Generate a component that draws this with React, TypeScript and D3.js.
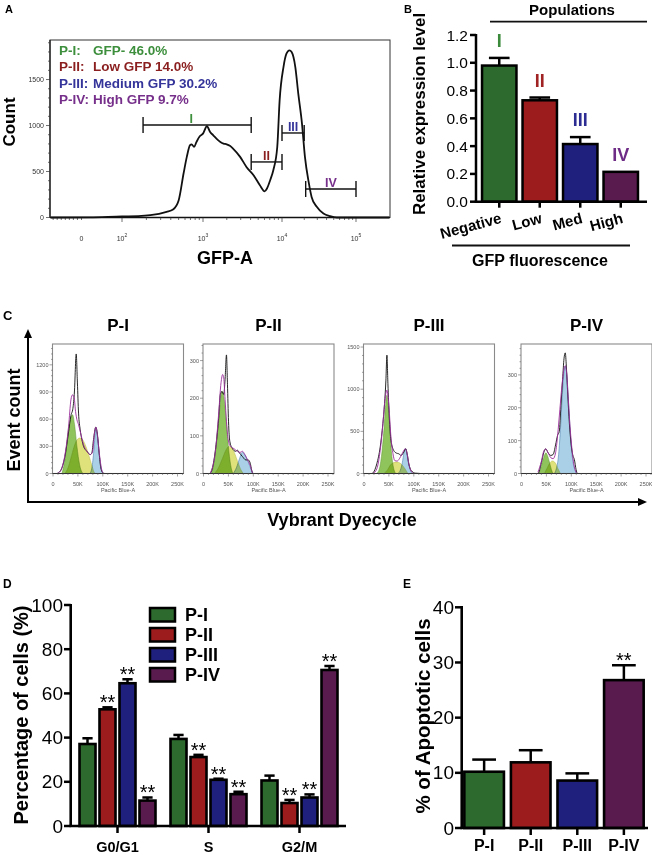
import React from 'react';
import * as d3 from 'd3';

const FONT = "'Liberation Sans', Arial, Helvetica, sans-serif";

type P = [number, number];

// ---------------- Panel A data ----------------
// [log10(GFP-A), count]
const gfpHistogram: P[] = [
  [1.12, 0], [1.6, 2], [2.0, 12], [2.2, 15], [2.35, 25], [2.55, 62], [2.63, 87], [2.7, 188],
  [2.76, 478], [2.8, 659], [2.84, 786], [2.86, 796], [2.89, 767], [2.92, 822], [2.96, 883],
  [3.0, 912], [3.05, 992], [3.09, 930], [3.13, 894], [3.17, 858], [3.22, 822], [3.26, 804],
  [3.3, 796], [3.34, 780], [3.38, 749], [3.47, 659], [3.55, 550], [3.64, 460], [3.72, 351],
  [3.78, 285], [3.81, 315], [3.85, 405], [3.89, 514], [3.94, 767], [3.97, 1274], [4.02, 1636],
  [4.06, 1781], [4.1, 1817], [4.13, 1799], [4.18, 1636], [4.22, 1347], [4.27, 1021], [4.31, 659],
  [4.36, 387], [4.4, 224], [4.47, 116], [4.56, 43], [4.65, 14], [4.74, 0], [5.45, 0],
];
const gfpLegendNames = ['P-I:', 'P-II:', 'P-III:', 'P-IV:'];
const gfpLegendTexts = ['GFP- 46.0%', 'Low GFP 14.0%', 'Medium GFP 30.2%', 'High GFP 9.7%'];
const gateNames = ['I', 'II', 'III', 'IV'];
const gateFrom = [2.26, 3.61, 4.0, 4.32];
const gateTo = [3.61, 4.0, 4.3, 5.0];
const gateLevel = [1005, 604, 919, 310];
const countTicksA = [0, 500, 1000, 1500];
const gfpDecades = [2, 3, 4, 5];

// ---------------- Panel B data ----------------
const populationCats = ['Negative', 'Low', 'Med', 'High'];
const populationRoman = ['I', 'II', 'III', 'IV'];
const expressionMean = [0.98, 0.73, 0.415, 0.215];
const expressionErr = [0.055, 0.02, 0.05, 0.0];
const expressionTicks = [0, 0.2, 0.4, 0.6, 0.8, 1.0, 1.2];

// ---------------- Panel C data ----------------
// [Pacific Blue-A (K), count]
const rawPI: P[] = [[0, 0], [8, 0], [11, 8], [18, 62], [24, 190], [31, 447], [36, 640], [40, 720], [43, 900], [46.6, 1320], [49, 1000], [51.3, 667], [54.6, 484], [58, 374], [61.3, 301], [68, 246], [74.6, 209], [78, 227], [81.3, 374], [86, 513], [89.3, 429], [92.6, 227], [96, 62], [100, 8], [104, 0], [262, 0]];
const fitPI: P[] = [[8, 0], [14.6, 26], [24.6, 227], [31.3, 521], [36, 814], [39.3, 869], [42.6, 832], [45.3, 685], [48, 594], [51.3, 539], [54.6, 466], [61.3, 319], [68, 246], [74.6, 209], [79.3, 235], [83.3, 447], [86, 513], [89.3, 411], [93.3, 209], [98, 37], [101.3, 0]];
const g1PI: P[] = [[18, 0], [24.6, 172], [31.3, 502], [39.3, 649], [43.3, 539], [48, 301], [53.3, 99], [58, 15], [61, 0]];
const sPI: P[] = [[24, 0], [30, 60], [36, 170], [42, 290], [48, 370], [54, 392], [60, 370], [66, 300], [72, 200], [78, 90], [82, 20], [85, 0]];
const g2PI: P[] = [[74, 0], [78, 60], [82, 250], [86, 500], [90, 380], [94, 150], [98, 30], [101, 0]];

const rawPII: P[] = [[0, 0], [13, 0], [23.6, 59], [30.4, 147], [33.8, 210], [37.2, 218], [40.6, 210], [43.3, 250], [46.1, 315], [48.1, 237], [50.2, 139], [52.9, 85], [57.7, 67], [64.6, 59], [68, 62], [71.4, 56], [78.2, 45], [85, 36], [89.8, 36], [93.9, 27], [96.7, 9], [99.4, 0], [262, 0]];
const fitPII: P[] = [[13, 0], [23.6, 56], [30.4, 158], [35.2, 241], [38.5, 263], [40.6, 254], [43.3, 197], [46.1, 139], [49.5, 90], [54.3, 72], [61.1, 66], [68, 59], [73.5, 56], [78.2, 59], [83, 50], [88.4, 36], [93.9, 21], [98.7, 1], [100, 0]];
const g1PII: P[] = [[16.7, 0], [23.6, 51], [30.4, 138], [37.2, 218], [42, 192], [46.1, 130], [50.9, 59], [55.7, 14], [59.8, 0]];
const sPII: P[] = [[22, 0], [30, 15], [38, 40], [45, 62], [51, 72], [57, 68], [63, 52], [69, 30], [75, 10], [80, 0]];
const g2PII: P[] = [[60, 0], [66, 15], [72, 38], [78, 56], [84, 48], [90, 30], [95, 12], [100, 0]];

const rawPIII: P[] = [[0, 0], [15.6, 0], [25.7, 115], [32.5, 313], [37.9, 590], [41.3, 829], [44, 1107], [46, 1404], [48, 1066], [50.8, 670], [54.1, 393], [59.6, 274], [65, 242], [69.7, 234], [74.5, 214], [79.9, 254], [83.9, 294], [86.6, 234], [90, 115], [94.7, 36], [103.5, 4], [113.6, 0], [262, 0]];
const fitPIII: P[] = [[18, 0], [25.7, 55], [32.5, 274], [37.9, 590], [42, 869], [46, 988], [50.1, 789], [54.1, 432], [58.2, 234], [61.6, 155], [66.3, 147], [71, 174], [76.4, 234], [83.2, 294], [86.6, 234], [90, 115], [94.7, 28], [100, 0]];
const g1PIII: P[] = [[25, 0], [30, 40], [35, 200], [40, 520], [43, 780], [46, 928], [49, 780], [52, 500], [56, 200], [60, 50], [64, 0]];
const sPIII: P[] = [[40, 0], [47, 40], [53, 100], [60, 130], [66, 135], [72, 125], [78, 90], [84, 40], [88, 0]];
const g2PIII: P[] = [[68, 0], [73, 40], [77, 130], [80, 240], [83, 294], [86, 240], [89, 130], [93, 40], [97, 0]];

const rawPIV: P[] = [[0, 0], [33.1, 0], [39.9, 33], [44.6, 63], [48.7, 75], [53.4, 63], [58.9, 55], [63.6, 58], [68.4, 87], [72.4, 116], [75.8, 128], [79.2, 206], [82.6, 287], [85.3, 349], [87.9, 367], [90, 327], [92.7, 245], [96.1, 153], [99.4, 92], [102.8, 57], [106.2, 42], [109.6, 12], [112.3, 0], [262, 0]];
const fitPIV: P[] = [[33.1, 4], [39.9, 37], [44.6, 68], [48.7, 75], [53.4, 63], [58.9, 48], [63.6, 45], [68.4, 63], [72.4, 114], [77.1, 196], [81.2, 267], [85.3, 318], [87.9, 328], [90.6, 306], [94, 224], [97.4, 143], [100.8, 82], [104.2, 37], [107.6, 12], [111, 0]];
const g1PIV: P[] = [[34, 0], [38, 12], [42, 35], [46, 55], [49, 63], [52, 55], [56, 35], [60, 12], [63, 0]];
const sPIV: P[] = [[46, 0], [51, 15], [56, 30], [62, 38], [68, 32], [73, 15], [78, 0]];
const g2PIV: P[] = [[66, 0], [70, 15], [74, 50], [78, 130], [82, 240], [86, 315], [88, 326], [91, 300], [94, 230], [97, 150], [100, 80], [104, 30], [108, 8], [111, 0]];

const cycleNames = ['P-I', 'P-II', 'P-III', 'P-IV'];
const cycleRaw = [rawPI, rawPII, rawPIII, rawPIV];
const cycleFit = [fitPI, fitPII, fitPIII, fitPIV];
const cycleG1 = [g1PI, g1PII, g1PIII, g1PIV];
const cycleS = [sPI, sPII, sPIII, sPIV];
const cycleG2 = [g2PI, g2PII, g2PIII, g2PIV];
const cycleYMax = [1430, 344, 1536, 394];
const cycleYTicks = [[0, 300, 600, 900, 1200], [0, 100, 200, 300], [0, 500, 1000, 1500], [0, 100, 200, 300]];
const cycleYMinor = [60, 20, 100, 20];
const cycleXTicks = [0, 50, 100, 150, 200, 250];

// ---------------- Panel D data ----------------
const phaseGroups = ['G0/G1', 'S', 'G2/M'];
const popNames = ['P-I', 'P-II', 'P-III', 'P-IV'];
const phaseMean = [[37.1, 52.8, 64.6, 11.5], [39.4, 31.2, 20.9, 14.4], [20.6, 10.4, 12.9, 70.6]];
const phaseErr = [[2.6, 0.9, 1.8, 1.4], [1.8, 1.0, 0.5, 1.1], [2.2, 1.4, 1.4, 1.8]];
const phaseSig = [[false, true, true, true], [false, true, true, true], [false, true, true, true]];
const percentTicks = [0, 20, 40, 60, 80, 100];

// ---------------- Panel E data ----------------
const apoptoticMean = [10.2, 11.9, 8.6, 26.8];
const apoptoticErr = [2.2, 2.2, 1.3, 2.7];
const apoptoticSig = [false, false, false, true];
const apoptoticTicks = [0, 10, 20, 30, 40];

// ---------------- styles ----------------
const BAR_COLORS = ['#2d6a2e', '#9c1c1e', '#1f1f7e', '#591b4e'];
const LABEL_COLORS = ['#3b8a3b', '#a02222', '#2c2c92', '#6e2c86'];
const LEGEND_A_COLORS = ['#3d8f3d', '#8b1f1f', '#34349a', '#762f8a'];

function PanelA() {
  const x = d3.scaleLinear().domain([2, 3, 4, 5]).range([122, 203, 282, 356]);
  const y = d3.scaleLinear().domain([0, 1930]).range([217.5, 40]);
  const line = d3.line<P>().x(d => x(d[0])).y(d => y(d[1])).curve(d3.curveMonotoneX);
  const yMinor = d3.range(0, 1901, 100);
  const xMinor: number[] = [];
  [2, 3, 4].forEach(k => d3.range(1, 10).forEach(m => xMinor.push(k + Math.log10(m))));
  xMinor.push(5);
  const linTicks = d3.range(1.15, 1.5, 0.05);
  return (
    <g>
      <text x={5} y={13} fontSize={11} fontWeight="bold">A</text>
      <rect x={50} y={40} width={340} height={177.5} fill="none" stroke="#333" strokeWidth={1} />
      <line x1={50} x2={390} y1={217.5} y2={217.5} stroke="#111" strokeWidth={1.6} />
      <line x1={50} x2={50} y1={40} y2={217.5} stroke="#222" strokeWidth={1.3} />
      {yMinor.map(v => (
        <line key={v} x1={v % 500 === 0 ? 46 : 48} x2={50} y1={y(v)} y2={y(v)} stroke="#333" strokeWidth={0.7} />
      ))}
      {countTicksA.map(v => (
        <text key={v} x={44} y={y(v) + 2.5} fontSize={7} textAnchor="end" fill="#333">{v}</text>
      ))}
      {xMinor.map((v, i) => (
        <line key={i} x1={x(v)} x2={x(v)} y1={217.5} y2={Number.isInteger(v) ? 222 : 220} stroke="#333" strokeWidth={0.7} />
      ))}
      {linTicks.map((v, i) => (
        <line key={'l' + i} x1={x(v)} x2={x(v)} y1={217.5} y2={220} stroke="#333" strokeWidth={0.7} />
      ))}
      <text x={x(1.5)} y={241} fontSize={7} textAnchor="middle" fill="#333">0</text>
      {gfpDecades.map(d => (
        <text key={d} x={x(d)} y={241} fontSize={7} textAnchor="middle" fill="#333">
          <tspan>10</tspan>
          <tspan dy={-4} fontSize={5}>{d}</tspan>
        </text>
      ))}
      <path d={line(gfpHistogram) || ''} fill="none" stroke="#111" strokeWidth={1.8} />
      {gateNames.map((g, i) => (
        <g key={g}>
          <line x1={x(gateFrom[i])} x2={x(gateTo[i])} y1={y(gateLevel[i])} y2={y(gateLevel[i])} stroke="#111" strokeWidth={1.4} />
          <line x1={x(gateFrom[i])} x2={x(gateFrom[i])} y1={y(gateLevel[i]) - 8} y2={y(gateLevel[i]) + 8} stroke="#111" strokeWidth={1.4} />
          <line x1={x(gateTo[i])} x2={x(gateTo[i])} y1={y(gateLevel[i]) - 8} y2={y(gateLevel[i]) + 8} stroke="#111" strokeWidth={1.4} />
          <text x={(x(gateFrom[i]) + x(gateTo[i])) / 2 - (i === 0 ? 6 : 0)} y={y(gateLevel[i]) - 2} fontSize={12.5} fontWeight="bold" textAnchor="middle" fill={LEGEND_A_COLORS[i]}>{g}</text>
        </g>
      ))}
      {gfpLegendNames.map((n, i) => (
        <text key={n} y={54.5 + i * 16.5} fontSize={13.5} fontWeight="bold" fill={LEGEND_A_COLORS[i]}>
          <tspan x={59}>{n}</tspan>
          <tspan x={93}>{gfpLegendTexts[i]}</tspan>
        </text>
      ))}
      <text transform="translate(15,122) rotate(-90)" fontSize={17} fontWeight="bold" textAnchor="middle">Count</text>
      <text x={225} y={264} fontSize={18} fontWeight="bold" textAnchor="middle">GFP-A</text>
    </g>
  );
}

function PanelB() {
  const y = d3.scaleLinear().domain([0, 1.2]).range([201.7, 35]);
  const x = d3.scaleBand<string>().domain(populationCats).range([479, 641]).paddingInner(0.15).paddingOuter(0.075);
  const bw = x.bandwidth();
  const fmt = d3.format('.1f');
  return (
    <g>
      <text x={404} y={13} fontSize={11} fontWeight="bold">B</text>
      <text x={572} y={15} fontSize={15} fontWeight="bold" textAnchor="middle">Populations</text>
      <line x1={490} x2={647} y1={21.7} y2={21.7} stroke="#111" strokeWidth={1.8} />
      {populationCats.map((c, i) => {
        const x0 = x(c)!;
        const cx = x0 + bw / 2;
        const top = y(expressionMean[i] + expressionErr[i]);
        return (
          <g key={c}>
            {expressionErr[i] > 0 && (
              <g stroke="#000" strokeWidth={2.5}>
                <line x1={cx} x2={cx} y1={y(expressionMean[i])} y2={top} />
                <line x1={cx - bw * 0.3} x2={cx + bw * 0.3} y1={top} y2={top} />
              </g>
            )}
            <rect x={x0} y={y(expressionMean[i])} width={bw} height={y(0) - y(expressionMean[i])} fill={BAR_COLORS[i]} stroke="#000" strokeWidth={2.5} />
            <text x={cx} y={top - 11} fontSize={18} fontWeight="bold" textAnchor="middle" fill={LABEL_COLORS[i]}>{populationRoman[i]}</text>
            <line x1={cx} x2={cx} y1={y(0)} y2={y(0) + 6} stroke="#000" strokeWidth={2.5} />
            <text transform={`translate(${cx + 3},${y(0) + 21}) rotate(-15)`} fontSize={15} fontWeight="bold" textAnchor="end">{c}</text>
          </g>
        );
      })}
      <line x1={476} x2={476} y1={34} y2={y(0) + 1.2} stroke="#000" strokeWidth={2.5} />
      <line x1={474.8} x2={647} y1={y(0)} y2={y(0)} stroke="#000" strokeWidth={2.5} />
      {expressionTicks.map(v => (
        <g key={v}>
          <line x1={470} x2={476} y1={y(v)} y2={y(v)} stroke="#000" strokeWidth={2.5} />
          <text x={468} y={y(v) + 5.5} fontSize={15.5} textAnchor="end">{fmt(v)}</text>
        </g>
      ))}
      <text transform="translate(425,114) rotate(-90)" fontSize={17} fontWeight="bold" textAnchor="middle">Relative expression level</text>
      <line x1={452} x2={630} y1={245.5} y2={245.5} stroke="#111" strokeWidth={1.8} />
      <text x={540} y={266} fontSize={16} fontWeight="bold" textAnchor="middle">GFP fluorescence</text>
    </g>
  );
}

function CyclePanel({ i, left }: { i: number; left: number }) {
  const top = 344;
  const bottom = 473.5;
  const width = 131;
  const x = d3.scaleLinear().domain([0, 262]).range([left + 0.5, left + width]);
  const y = d3.scaleLinear().domain([0, cycleYMax[i]]).range([bottom, top]);
  const area = d3.area<P>().x(d => x(d[0])).y0(bottom).y1(d => y(d[1])).curve(d3.curveMonotoneX);
  const line = d3.line<P>().x(d => x(d[0])).y(d => y(d[1])).curve(d3.curveMonotoneX);
  const clipId = `clipC${i}`;
  const yMinor = d3.range(0, cycleYMax[i], cycleYMinor[i]);
  const xMinor = d3.range(0, 261, 10);
  return (
    <g>
      <clipPath id={clipId}>
        <rect x={left} y={top} width={width} height={bottom - top} />
      </clipPath>
      <text x={left + width / 2} y={331} fontSize={17} fontWeight="bold" textAnchor="middle">{cycleNames[i]}</text>
      <g clipPath={`url(#${clipId})`}>
        <path d={area(cycleS[i]) || ''} fill="#dfe27a" stroke="#b9bb4a" strokeWidth={0.5} style={{ mixBlendMode: 'multiply' }} />
        <path d={area(cycleG1[i]) || ''} fill="#8fc45c" stroke="#5d8f30" strokeWidth={0.5} style={{ mixBlendMode: 'multiply' }} />
        <path d={area(cycleG2[i]) || ''} fill="#a9d0e6" stroke="#4f7fb0" strokeWidth={0.6} style={{ mixBlendMode: 'multiply' }} />
        <path d={line(cycleRaw[i]) || ''} fill="none" stroke="#111" strokeWidth={0.9} />
        <path d={line(cycleFit[i]) || ''} fill="none" stroke="#9b2f9b" strokeWidth={0.9} />
      </g>
      <rect x={left} y={top} width={width} height={bottom - top} fill="none" stroke="#8a8a8a" strokeWidth={1.1} />
      <line x1={left} x2={left + width} y1={bottom} y2={bottom} stroke="#333" strokeWidth={1} />
      {yMinor.map(v => (
        <line key={v} x1={left - (cycleYTicks[i].includes(v) ? 3 : 1.5)} x2={left} y1={y(v)} y2={y(v)} stroke="#666" strokeWidth={0.6} />
      ))}
      {cycleYTicks[i].map(v => (
        <text key={v} x={left - 4} y={y(v) + 2} fontSize={5.5} textAnchor="end" fill="#555">{v}</text>
      ))}
      {xMinor.map(v => (
        <line key={v} x1={x(v)} x2={x(v)} y1={bottom} y2={bottom + (v % 50 === 0 ? 3 : 1.5)} stroke="#666" strokeWidth={0.6} />
      ))}
      {cycleXTicks.map(v => (
        <text key={v} x={x(v)} y={bottom + 12} fontSize={5.5} textAnchor="middle" fill="#555">{v === 0 ? '0' : `${v}K`}</text>
      ))}
      <text x={left + width / 2} y={bottom + 18} fontSize={5.5} textAnchor="middle" fill="#555">Pacific Blue-A</text>
    </g>
  );
}

function PanelC() {
  const lefts = [52.5, 203, 363.5, 521];
  return (
    <g>
      <text x={3} y={320} fontSize={13} fontWeight="bold">C</text>
      {lefts.map((l, i) => <CyclePanel key={i} i={i} left={l} />)}
      <line x1={28} x2={28} y1={336} y2={502} stroke="#000" strokeWidth={2} />
      <path d="M28,329 L24,338 L32,338 Z" fill="#000" />
      <line x1={27} x2={640} y1={502} y2={502} stroke="#000" strokeWidth={2} />
      <path d="M647,502 L638,498 L638,506 Z" fill="#000" />
      <text transform="translate(20,420) rotate(-90)" fontSize={18} fontWeight="bold" textAnchor="middle">Event count</text>
      <text x={342} y={526} fontSize={18} fontWeight="bold" textAnchor="middle">Vybrant Dyecycle</text>
    </g>
  );
}

function PanelD() {
  const y = d3.scaleLinear().domain([0, 100]).range([826, 605]);
  const x0 = d3.scaleBand<string>().domain(phaseGroups).range([72, 345]).paddingInner(0.165).paddingOuter(0.0825);
  const x1 = d3.scaleBand<string>().domain(popNames).range([0, x0.bandwidth()]).paddingInner(0.2).paddingOuter(0);
  const bw = x1.bandwidth();
  return (
    <g>
      <text x={3} y={588} fontSize={12} fontWeight="bold">D</text>
      {phaseGroups.map((g, gi) => (
        <g key={g}>
          {popNames.map((p, pi) => {
            const bx = x0(g)! + x1(p)!;
            const cx = bx + bw / 2;
            const v = phaseMean[gi][pi];
            const top = y(v + phaseErr[gi][pi]);
            return (
              <g key={p}>
                <g stroke="#000" strokeWidth={2.5}>
                  <line x1={cx} x2={cx} y1={y(v)} y2={top} />
                  <line x1={cx - bw * 0.32} x2={cx + bw * 0.32} y1={top} y2={top} />
                </g>
                <rect x={bx} y={y(v)} width={bw} height={y(0) - y(v)} fill={BAR_COLORS[pi]} stroke="#000" strokeWidth={2.6} />
                {phaseSig[gi][pi] && (
                  <text x={cx} y={top + 2} fontSize={20} textAnchor="middle">**</text>
                )}
              </g>
            );
          })}
          <line x1={x0(g)! + x0.bandwidth() / 2} x2={x0(g)! + x0.bandwidth() / 2} y1={826} y2={833} stroke="#000" strokeWidth={2.5} />
          <text x={x0(g)! + x0.bandwidth() / 2} y={852} fontSize={14.5} fontWeight="bold" textAnchor="middle">{g}</text>
        </g>
      ))}
      <line x1={70.7} x2={70.7} y1={604} y2={827} stroke="#000" strokeWidth={2.6} />
      <line x1={69.5} x2={346} y1={826} y2={826} stroke="#000" strokeWidth={2.6} />
      {percentTicks.map(v => (
        <g key={v}>
          <line x1={64} x2={70.7} y1={y(v)} y2={y(v)} stroke="#000" strokeWidth={2.5} />
          <text x={63} y={y(v) + 6.5} fontSize={19} textAnchor="end">{v}</text>
        </g>
      ))}
      <text transform="translate(28,715) rotate(-90)" fontSize={20} fontWeight="bold" textAnchor="middle">Percentage of cells (%)</text>
      {popNames.map((p, i) => (
        <g key={p}>
          <rect x={150} y={608 + i * 20} width={25} height={13.5} fill={BAR_COLORS[i]} stroke="#000" strokeWidth={2.5} />
          <text x={185} y={621 + i * 20} fontSize={18} fontWeight="bold">{p}</text>
        </g>
      ))}
    </g>
  );
}

function PanelE() {
  const y = d3.scaleLinear().domain([0, 40]).range([828, 607.3]);
  const x = d3.scaleBand<string>().domain(popNames).range([462, 646]).paddingInner(0.15).paddingOuter(0.05);
  const bw = x.bandwidth();
  return (
    <g>
      <text x={403} y={588} fontSize={12} fontWeight="bold">E</text>
      {popNames.map((p, i) => {
        const bx = x(p)!;
        const cx = bx + bw / 2;
        const v = apoptoticMean[i];
        const top = y(v + apoptoticErr[i]);
        return (
          <g key={p}>
            <g stroke="#000" strokeWidth={2.5}>
              <line x1={cx} x2={cx} y1={y(v)} y2={top} />
              <line x1={cx - bw * 0.3} x2={cx + bw * 0.3} y1={top} y2={top} />
            </g>
            <rect x={bx} y={y(v)} width={bw} height={y(0) - y(v)} fill={BAR_COLORS[i]} stroke="#000" strokeWidth={2.6} />
            {apoptoticSig[i] && <text x={cx} y={top + 2} fontSize={20} textAnchor="middle">**</text>}
            <line x1={cx} x2={cx} y1={828} y2={835} stroke="#000" strokeWidth={2.5} />
            <text x={cx} y={851} fontSize={16} fontWeight="bold" textAnchor="middle">{p}</text>
          </g>
        );
      })}
      <line x1={461.7} x2={461.7} y1={606} y2={829} stroke="#000" strokeWidth={2.6} />
      <line x1={460.5} x2={648} y1={828} y2={828} stroke="#000" strokeWidth={2.6} />
      {apoptoticTicks.map(v => (
        <g key={v}>
          <line x1={455} x2={461.7} y1={y(v)} y2={y(v)} stroke="#000" strokeWidth={2.5} />
          <text x={454} y={y(v) + 6.5} fontSize={19} textAnchor="end">{v}</text>
        </g>
      ))}
      <text transform="translate(430,716) rotate(-90)" fontSize={20.5} fontWeight="bold" textAnchor="middle">% of Apoptotic cells</text>
    </g>
  );
}

export default function App() {
  return (
    <svg width={652} height={858} style={{ position: 'absolute', left: 0, top: 0, display: 'block', background: '#fff' }} fontFamily={FONT}>
      <rect x={0} y={0} width={652} height={858} fill="#fff" />
      <PanelA />
      <PanelB />
      <PanelC />
      <PanelD />
      <PanelE />
    </svg>
  );
}
